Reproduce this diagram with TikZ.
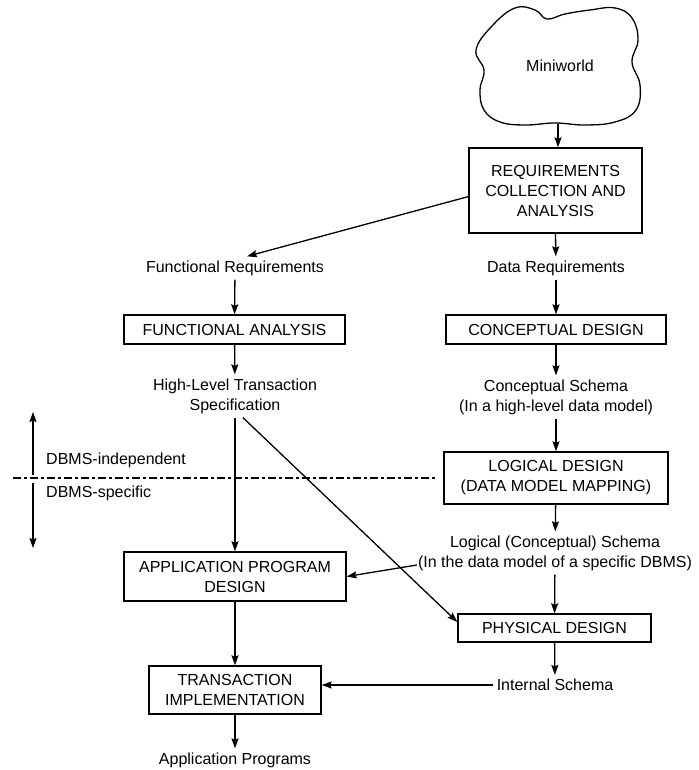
\documentclass[tikz,border=0pt]{standalone}
\usepackage{fontspec}
\setmainfont{Liberation Sans}
\usetikzlibrary{arrows.meta, positioning, calc}

\begin{document}
\begin{tikzpicture}[x=1pt, y=-1pt,
    font=\fontsize{16}{20}\selectfont,
    stepbox/.style={draw=black, line width=1.4pt, align=center, inner sep=2pt},
    lbl/.style={align=center, inner sep=4pt},
    flow/.style={line width=1.3pt, -{Stealth[length=10pt, width=7pt, inset=1.5pt]}}]
  \useasboundingbox (0,0) rectangle (698,770);

  \node (miniworld) at (560,66) {Miniworld};
  \draw[line width=1.3pt] plot[smooth cycle, tension=0.7] coordinates {
    (515,8) (535,10) (547,19) (565,14) (590,10) (615,8) (632,18) (638,40)
    (632,62) (640,85) (636,110) (615,122) (585,125) (555,123) (525,125)
    (500,122) (484,110) (480,90) (484,70) (476,50) (492,26)};
  \coordinate (cloudbot) at (558,124);

  \node[stepbox, minimum width=173pt, minimum height=85pt] (reqs) at (555.5,190.5) {REQUIREMENTS\\COLLECTION AND\\ANALYSIS};
  \node[lbl] (datareq) at (556,268) {Data Requirements};
  \node[lbl] (funcreq) at (235,268) {Functional Requirements};
  \node[stepbox, minimum width=220pt, minimum height=29pt] (concdesign) at (556,329.5) {CONCEPTUAL DESIGN};
  \node[stepbox, minimum width=221pt, minimum height=29pt] (funcanalysis) at (234.5,329.5) {FUNCTIONAL ANALYSIS};
  \node[lbl] (concschema) at (556,397) {Conceptual Schema\\(In a high-level data model)};
  \node[lbl] (transspec) at (235,396) {High-Level Transaction\\Specification};
  \node[stepbox, minimum width=224pt, minimum height=52pt] (logdesign) at (556,478) {LOGICAL DESIGN\\(DATA MODEL MAPPING)};
  \node[lbl] (logschema) at (555,553) {Logical (Conceptual) Schema\\(In the data model of a specific DBMS)};
  \node[stepbox, minimum width=222pt, minimum height=49pt] (appdesign) at (235,576.5) {APPLICATION PROGRAM\\DESIGN};
  \node[stepbox, minimum width=193pt, minimum height=28pt] (physdesign) at (554.5,628) {PHYSICAL DESIGN};
  \node[lbl] (intschema) at (555,685) {Internal Schema};
  \node[stepbox, minimum width=172pt, minimum height=48pt] (transimpl) at (235,690) {TRANSACTION\\IMPLEMENTATION};
  \node[lbl] (appprograms) at (235,760) {Application Programs};

  \node[lbl, anchor=west] (indep) at (42,460) {DBMS-independent};
  \node[lbl, anchor=west] (specific) at (42,493) {DBMS-specific};
  \coordinate (bndtop) at (33,412);
  \coordinate (bndup) at (33,475);
  \coordinate (bnddown) at (33,483);
  \coordinate (bndbot) at (33,548);
  \coordinate (dashl) at (13,478);
  \draw[line width=1.2pt, dash pattern=on 8pt off 3pt on 3pt off 3pt] (dashl) -- ($(logdesign.west)+(-6,0)$);
  \draw[flow] (bndup) -- (bndtop);
  \draw[flow] (bnddown) -- (bndbot);

  \draw[flow] (cloudbot) -- (cloudbot |- reqs.north);
  \draw[flow] (reqs.south) -- (datareq);
  \draw[flow] (reqs.184) -- ($(funcreq.north)+(12,0)$);
  \draw[flow] (datareq) -- (concdesign);
  \draw[flow] (funcreq) -- (funcanalysis);
  \draw[flow] (concdesign) -- (concschema);
  \draw[flow] (funcanalysis) -- (transspec);
  \draw[flow] (concschema) -- (logdesign);
  \draw[flow] (transspec) -- (appdesign);
  \draw[flow] ($(transspec.south)+(8,0)$) -- ($(physdesign.west)+(0,-6)$);
  \draw[flow] (logdesign) -- (logschema);
  \draw[flow] ($(logschema.west)+(3,12)$) -- (appdesign.east);
  \draw[flow] (logschema) -- (physdesign);
  \draw[flow] (physdesign) -- (intschema);
  \draw[flow] (intschema.west) -- (intschema.west -| transimpl.east);
  \draw[flow] (appdesign) -- (transimpl);
  \draw[flow] (transimpl) -- (appprograms);
\end{tikzpicture}
\end{document}
